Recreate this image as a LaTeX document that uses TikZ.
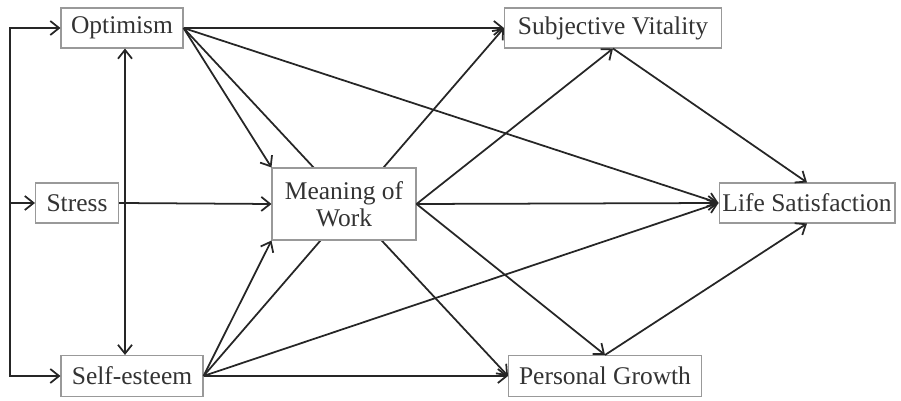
\documentclass[tikz,border=0pt]{standalone}
\usepackage{fontspec}
\setmainfont{Liberation Serif}
\usetikzlibrary{arrows.meta}
\usetikzlibrary{backgrounds}

\tikzset{
  var/.style={draw=gray!80, fill=white, line width=0.6pt, text=black!80,
    minimum height=0.8cm, inner sep=0pt, align=center,
    font=\fontsize{14.5}{15.5}\selectfont},
  path/.style={->, line width=1pt, black!85},
  >={Straight Barb[length=5pt,width=8pt]}
}

\begin{document}
\begin{tikzpicture}[x=0.02cm,y=-0.02cm]
\useasboundingbox (0,0) rectangle (901,401);

% variables
\node[var, minimum width=2.44cm] (opt) at (122,28) {Optimism};
\node[var, minimum width=1.66cm] (stress) at (77,203) {Stress};
\node[var, minimum width=2.84cm, minimum height=0.82cm] (self) at (132,376) {Self-esteem};
\node[var, minimum width=2.88cm, minimum height=1.44cm] (mean) at (344,204) {Meaning of\\Work};
\node[var, minimum width=4.34cm] (vital) at (613,28) {Subjective Vitality};
\node[var, minimum width=3.86cm, minimum height=0.82cm] (growth) at (605,376) {Personal Growth};
\node[var, minimum width=3.52cm] (life) at (807,203) {Life Satisfaction};

\coordinate (lft) at (10,203);
\coordinate (vx) at (125,0);

% predictors
\draw[path, <->] (opt.west) -| (lft) |- (self.west);
\draw[path] (lft) -- (stress.west);
\draw[path, <->] (vx |- opt.south) -- (vx |- self.north);

% paths behind the mediator
\begin{pgfonlayer}{background}
\draw[path] (opt.east) -- (growth.west);
\draw[path] (self.east) -- (vital.west);
\end{pgfonlayer}

\draw[path] (stress.east) -- (mean.west);
\draw[path] (opt.east) -- (vital.west);
\draw[path] (opt.east) -- (life.west);
\draw[path] (opt.east) -- (mean.north west);
\draw[path] (self.east) -- (mean.south west);
\draw[path] (self.east) -- (life.west);
\draw[path] (self.east) -- (growth.west);

% mediator
\draw[path] (mean.east) -- (vital.south);
\draw[path] (mean.east) -- (life.west);
\draw[path] (mean.east) -- (growth.north);

% outcomes
\draw[path] (vital.south) -- (life.north);
\draw[path] (growth.north) -- (life.south);
\end{tikzpicture}
\end{document}
